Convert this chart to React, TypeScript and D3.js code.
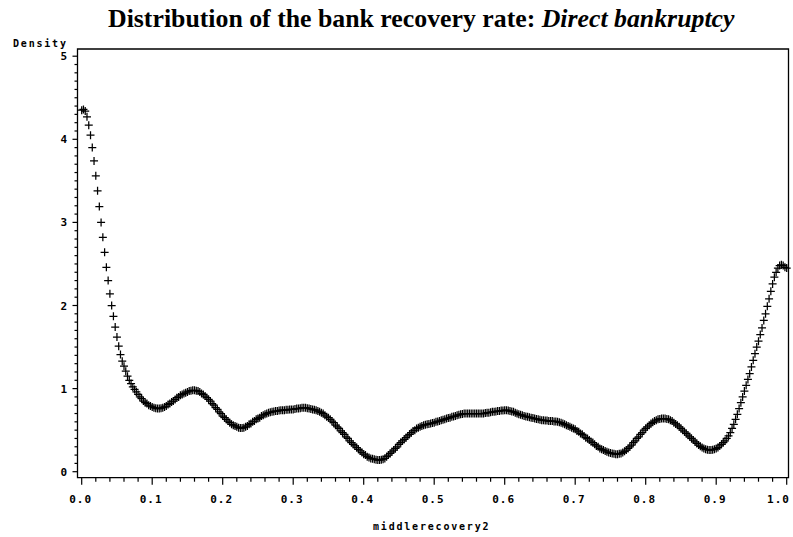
import React from "react";
import * as d3 from "d3";

// Kernel density estimate, 401-point grid from 0 to 1 (step 0.0025)
const densityValues: number[] = [
  // 0.00 - 0.0475
  4.35, 4.36, 4.34, 4.27, 4.17, 4.05, 3.90, 3.74, 3.56, 3.38, 3.19, 3.00, 2.82, 2.64, 2.46, 2.30, 2.14, 2.00, 1.87, 1.74,
  // 0.05 - 0.0975
  1.62, 1.51, 1.41, 1.33, 1.27, 1.21, 1.15, 1.10, 1.06, 1.02, 0.99, 0.96, 0.93, 0.90, 0.88, 0.85, 0.83, 0.82, 0.80, 0.79,
  // 0.10 - 0.1475
  0.78, 0.77, 0.765, 0.76, 0.76, 0.765, 0.77, 0.78, 0.79, 0.81, 0.82, 0.84, 0.85, 0.87, 0.89, 0.90, 0.92, 0.93, 0.94, 0.95,
  // 0.15 - 0.1975
  0.96, 0.97, 0.975, 0.98, 0.98, 0.975, 0.97, 0.96, 0.94, 0.93, 0.91, 0.89, 0.87, 0.85, 0.82, 0.80, 0.77, 0.75, 0.72, 0.70,
  // 0.20 - 0.2475
  0.67, 0.65, 0.63, 0.61, 0.59, 0.57, 0.56, 0.55, 0.54, 0.53, 0.525, 0.525, 0.53, 0.54, 0.55, 0.57, 0.58, 0.60, 0.61, 0.63,
  // 0.25 - 0.2975
  0.64, 0.65, 0.67, 0.68, 0.69, 0.70, 0.71, 0.715, 0.72, 0.725, 0.73, 0.73, 0.735, 0.74, 0.74, 0.74, 0.745, 0.745, 0.75, 0.75,
  // 0.30 - 0.3475
  0.75, 0.755, 0.76, 0.76, 0.765, 0.77, 0.77, 0.77, 0.765, 0.76, 0.755, 0.75, 0.745, 0.74, 0.73, 0.72, 0.71, 0.70, 0.68, 0.66,
  // 0.35 - 0.3975
  0.65, 0.63, 0.61, 0.59, 0.56, 0.54, 0.52, 0.49, 0.47, 0.45, 0.42, 0.40, 0.37, 0.35, 0.33, 0.31, 0.29, 0.27, 0.25, 0.23,
  // 0.40 - 0.4475
  0.21, 0.20, 0.18, 0.17, 0.16, 0.155, 0.15, 0.145, 0.14, 0.14, 0.145, 0.15, 0.16, 0.18, 0.20, 0.22, 0.24, 0.26, 0.28, 0.30,
  // 0.45 - 0.4975
  0.33, 0.35, 0.37, 0.39, 0.41, 0.43, 0.45, 0.47, 0.49, 0.50, 0.52, 0.53, 0.54, 0.55, 0.56, 0.565, 0.57, 0.575, 0.58, 0.585,
  // 0.50 - 0.5475
  0.59, 0.60, 0.605, 0.61, 0.62, 0.625, 0.63, 0.64, 0.645, 0.65, 0.66, 0.665, 0.67, 0.68, 0.685, 0.69, 0.695, 0.70, 0.70, 0.70,
  // 0.55 - 0.5975
  0.70, 0.70, 0.70, 0.70, 0.70, 0.70, 0.70, 0.70, 0.70, 0.705, 0.71, 0.71, 0.715, 0.72, 0.72, 0.725, 0.73, 0.73, 0.735, 0.735,
  // 0.60 - 0.6475
  0.74, 0.74, 0.735, 0.73, 0.725, 0.72, 0.71, 0.70, 0.69, 0.685, 0.68, 0.67, 0.665, 0.66, 0.655, 0.65, 0.645, 0.64, 0.635, 0.63,
  // 0.65 - 0.6975
  0.625, 0.62, 0.62, 0.615, 0.615, 0.61, 0.61, 0.61, 0.605, 0.605, 0.60, 0.595, 0.59, 0.58, 0.57, 0.56, 0.55, 0.54, 0.53, 0.52,
  // 0.70 - 0.7475
  0.51, 0.49, 0.48, 0.46, 0.45, 0.43, 0.41, 0.40, 0.38, 0.36, 0.35, 0.33, 0.31, 0.30, 0.28, 0.27, 0.26, 0.25, 0.24, 0.23,
  // 0.75 - 0.7975
  0.225, 0.22, 0.215, 0.21, 0.21, 0.215, 0.22, 0.23, 0.245, 0.26, 0.28, 0.30, 0.32, 0.35, 0.37, 0.40, 0.42, 0.45, 0.47, 0.50,
  // 0.80 - 0.8475
  0.52, 0.54, 0.56, 0.58, 0.595, 0.61, 0.62, 0.63, 0.635, 0.64, 0.64, 0.64, 0.635, 0.63, 0.62, 0.61, 0.59, 0.575, 0.56, 0.54,
  // 0.85 - 0.8975
  0.52, 0.50, 0.48, 0.46, 0.44, 0.42, 0.40, 0.38, 0.36, 0.34, 0.32, 0.305, 0.29, 0.28, 0.27, 0.265, 0.26, 0.26, 0.265, 0.27,
  // 0.90 - 0.9475
  0.28, 0.29, 0.31, 0.33, 0.35, 0.37, 0.40, 0.43, 0.47, 0.52, 0.57, 0.63, 0.69, 0.76, 0.83, 0.90, 0.97, 1.04, 1.11, 1.18,
  // 0.95 - 0.9975
  1.26, 1.34, 1.42, 1.50, 1.57, 1.65, 1.73, 1.82, 1.90, 1.99, 2.08, 2.17, 2.26, 2.34, 2.40, 2.45, 2.48, 2.49, 2.48, 2.46,
  // 1.00
  2.45,
];

const gridStep = 0.0025;
const xTickLabels = ["0.0", "0.1", "0.2", "0.3", "0.4", "0.5", "0.6", "0.7", "0.8", "0.9", "1.0"];
const yTickLabels = ["0", "1", "2", "3", "4", "5"];
const titleMain = "Distribution of the bank recovery rate: ";
const titleItalic = "Direct bankruptcy";
const xLabel = "middlerecovery2";
const yLabel = "Density";

export default function App() {
  const W = 793;
  const H = 537;
  const frame = { left: 77.5, right: 788.5, top: 49, bottom: 477.7 };
  const x = d3.scaleLinear().domain([0, 1]).range([81.7, 786.7]);
  const y = d3.scaleLinear().domain([0, 5]).range([471.7, 56.2]);

  const points = densityValues.map((d, i) => ({ xv: i * gridStep, d }));
  const xMinor = d3.range(0, 51).map((i) => i / 50);
  const yMinor = d3.range(0, 51).map((i) => i / 10);

  const mono = "'DejaVu Sans Mono', monospace";
  const plus = "M-4,0H4M0,-4V4";

  return (
    <svg
      width={W}
      height={H}
      style={{ position: "absolute", left: 0, top: 0, background: "#fff" }}
    >
      <rect x={0} y={0} width={W} height={H} fill="#fff" />
      <text
        x={108}
        y={27}
        fontFamily="'Liberation Serif', 'Times New Roman', serif"
        fontWeight="bold"
        fontSize={25.8}
        fill="#000"
      >
        {titleMain}
        <tspan fontStyle="italic">{titleItalic}</tspan>
      </text>

      {/* frame */}
      <path
        d={`M${frame.left},${frame.bottom}V${frame.top}H${frame.right}V${frame.bottom}Z`}
        fill="none"
        stroke="#000"
        strokeWidth={1.3}
      />

      {/* x ticks */}
      {xMinor.map((v, i) => (
        <line
          key={"xm" + i}
          x1={x(v)}
          x2={x(v)}
          y1={frame.bottom}
          y2={frame.bottom + (i % 5 === 0 ? 7 : 4)}
          stroke="#000"
          strokeWidth={1.2}
        />
      ))}
      {xTickLabels.map((t) => {
        const cx = Math.min(x(+t) - 1, 778.5);
        return (
          <text
            key={"xl" + t}
            x={cx}
            y={503}
            textAnchor="middle"
            fontFamily={mono}
            fontWeight="bold"
            fontSize={11}
            letterSpacing={1}
            fill="#000"
          >
            {t}
          </text>
        );
      })}

      {/* y ticks */}
      {yMinor.map((v, i) => (
        <line
          key={"ym" + i}
          x1={frame.left}
          x2={frame.left - (i % 10 === 0 ? 5 : 3)}
          y1={y(v)}
          y2={y(v)}
          stroke="#000"
          strokeWidth={1.2}
        />
      ))}
      {yTickLabels.map((t) => (
        <text
          key={"yl" + t}
          x={67}
          y={y(+t) + 4}
          textAnchor="end"
          fontFamily={mono}
          fontWeight="bold"
          fontSize={11}
          fill="#000"
        >
          {t}
        </text>
      ))}

      <text
        x={13}
        y={47}
        fontFamily={mono}
        fontWeight="bold"
        fontSize={10}
        letterSpacing={1.8}
        fill="#000"
      >
        {yLabel}
      </text>
      <text
        x={373}
        y={530}
        fontFamily={mono}
        fontWeight="bold"
        fontSize={10}
        letterSpacing={1.8}
        fill="#000"
      >
        {xLabel}
      </text>

      {/* density markers */}
      <g stroke="#000" strokeWidth={1.25} fill="none">
        {points.map((p, i) => (
          <path key={i} d={plus} transform={`translate(${x(p.xv)},${y(p.d)})`} />
        ))}
      </g>
    </svg>
  );
}
